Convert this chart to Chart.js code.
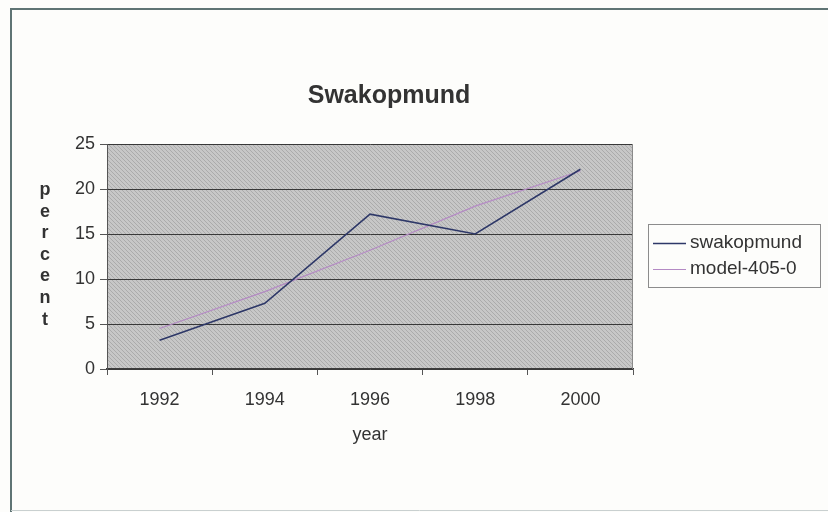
<!DOCTYPE html>
<html>
<head>
<meta charset="utf-8">
<script src="https://cdn.jsdelivr.net/npm/chart.js@4.4.1/dist/chart.umd.min.js"></script>
<style>
  html, body { margin: 0; padding: 0; background: #fdfdfb; }
  #wrap { position: relative; width: 828px; height: 512px; }
</style>
</head>
<body>
<div id="wrap"><canvas id="c" width="828" height="512"></canvas></div>
<script>
const chartTitle = 'Swakopmund';
const yAxisTitle = 'percent';
const xAxisTitle = 'year';
const categories = ['1992', '1994', '1996', '1998', '2000'];
const swakopmund = [3.2, 7.3, 17.2, 15.0, 22.2];
const model405 = [4.5, 8.6, 13.2, 18.1, 22.0];
const seriesNames = ['swakopmund', 'model-405-0'];
const yTicks = [0, 5, 10, 15, 20, 25];

const textColor = '#333333';
const lineColors = ['#2e3868', '#b48ac4'];

function makeHatch(ctx) {
  const p = document.createElement('canvas');
  p.width = 4; p.height = 4;
  const g = p.getContext('2d');
  g.fillStyle = '#c7c7c7';
  g.fillRect(0, 0, 4, 4);
  g.fillStyle = '#ababab';
  for (let i = 0; i < 4; i++) g.fillRect(i, i, 1, 1);
  return ctx.createPattern(p, 'repeat');
}

const decor = {
  id: 'decor',
  beforeDraw(chart) {
    const ctx = chart.ctx;
    const a = chart.chartArea;
    ctx.save();
    // page frame
    ctx.strokeStyle = '#5f7474';
    ctx.lineWidth = 2;
    ctx.beginPath();
    ctx.moveTo(11, 512); ctx.lineTo(11, 9); ctx.lineTo(828, 9);
    ctx.stroke();
    ctx.strokeStyle = '#c9d0d0';
    ctx.lineWidth = 1;
    ctx.beginPath();
    ctx.moveTo(11, 510.5); ctx.lineTo(828, 510.5);
    ctx.stroke();
    // plot background
    ctx.fillStyle = makeHatch(ctx);
    ctx.fillRect(a.left, a.top, a.right - a.left, a.bottom - a.top);
    ctx.restore();
  },
  afterDatasetsDraw(chart) {
    const ctx = chart.ctx;
    const a = chart.chartArea;
    ctx.save();
    // plot border (right side)
    ctx.strokeStyle = '#8a8a8a';
    ctx.lineWidth = 1;
    ctx.beginPath();
    ctx.moveTo(Math.round(a.right) - 0.5, a.top);
    ctx.lineTo(Math.round(a.right) - 0.5, a.bottom);
    ctx.stroke();
    // title
    ctx.fillStyle = textColor;
    ctx.font = 'bold 25px "Liberation Sans", Arial, sans-serif';
    ctx.textAlign = 'center';
    ctx.textBaseline = 'middle';
    ctx.fillText(chartTitle, 389, 96);
    // vertical stacked y title
    ctx.font = 'bold 18px "Liberation Sans", Arial, sans-serif';
    const letters = yAxisTitle.split('');
    letters.forEach((ch, i) => ctx.fillText(ch, 45, 190 + i * 21.6));
    // legend
    ctx.strokeStyle = '#8c8c8c';
    ctx.lineWidth = 1;
    ctx.strokeRect(648.5, 224.5, 172, 63);
    ctx.font = '19px "Liberation Sans", Arial, sans-serif';
    ctx.textAlign = 'left';
    chart.data.datasets.forEach((ds, i) => {
      const y = 243 + i * 26;
      ctx.strokeStyle = ds.borderColor;
      ctx.lineWidth = ds.borderWidth;
      ctx.beginPath();
      ctx.moveTo(653, y + 0.5); ctx.lineTo(686, y + 0.5);
      ctx.stroke();
      ctx.fillStyle = textColor;
      ctx.fillText(ds.label, 690, y);
    });
    ctx.restore();
  }
};

new Chart(document.getElementById('c'), {
  type: 'line',
  data: {
    labels: categories,
    datasets: [
      { label: seriesNames[0], data: swakopmund, borderColor: lineColors[0], borderWidth: 1.6, pointRadius: 0, tension: 0, fill: false },
      { label: seriesNames[1], data: model405, borderColor: lineColors[1], borderWidth: 1.2, pointRadius: 0, tension: 0, fill: false }
    ]
  },
  options: {
    responsive: false,
    animation: false,
    events: [],
    layout: { padding: { top: 144, left: 0, right: 195, bottom: 66 } },
    plugins: {
      legend: { display: false },
      title: { display: false },
      tooltip: { enabled: false }
    },
    scales: {
      x: {
        type: 'category',
        offset: true,
        afterFit(s) { s.height = 77; },
        grid: { display: true, offset: true, drawOnChartArea: false, drawTicks: true, tickLength: 6, color: '#555', tickColor: '#555' },
        border: { display: true, color: '#3c3c3c', width: 1.5 },
        ticks: { color: textColor, font: { family: '"Liberation Sans", Arial, sans-serif', size: 18 }, padding: 14, maxRotation: 0 },
        title: { display: true, text: xAxisTitle, color: textColor, font: { family: '"Liberation Sans", Arial, sans-serif', size: 18 }, padding: 0 }
      },
      y: {
        min: 0, max: 25,
        afterFit(s) { s.width = 107; },
        afterBuildTicks(s) { s.ticks = yTicks.map(v => ({ value: v })); },
        grid: { color: '#383838', lineWidth: 1, drawTicks: true, tickLength: 7, tickColor: '#555' },
        border: { display: true, color: '#555', width: 1 },
        ticks: { color: textColor, font: { family: '"Liberation Sans", Arial, sans-serif', size: 18 }, padding: 5 }
      }
    }
  },
  plugins: [decor]
});
</script>
</body>
</html>
